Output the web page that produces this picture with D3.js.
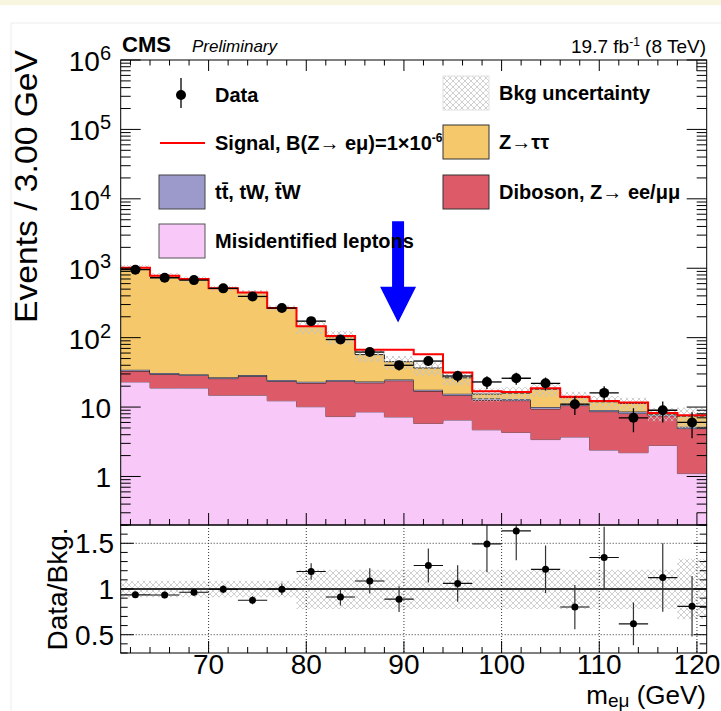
<!DOCTYPE html>
<html>
<head>
<meta charset="utf-8">
<script src="https://cdn.jsdelivr.net/npm/d3@7"></script>
<style>
  body { margin: 0; background: #fff; }
  text { font-family: "Liberation Sans", Arial, Helvetica, sans-serif; fill: #000; }
</style>
</head>
<body>
<div id="chart"></div>
<script>
// ---- values (20 bins of 3 GeV, 61-121 GeV) ----
var binCenters = [62.5, 65.5, 68.5, 71.5, 74.5, 77.5, 80.5, 83.5, 86.5, 89.5,
                  92.5, 95.5, 98.5, 101.5, 104.5, 107.5, 110.5, 113.5, 116.5, 119.5];
var binWidth = 3;
var misid   = [23.0, 18.8, 18.8, 14.8, 14.8, 12.3, 10.1, 7.3, 8.5, 7.2,
               5.8, 6.5, 4.7, 4.3, 3.4, 3.7, 2.4, 2.2, 2.8, 1.1];
var diboson = [10.0, 10.8, 9.7, 10.9, 12.9, 11.2, 12.1, 16.3, 13.9, 16.8,
               11.2, 8.3, 7.9, 8.1, 6.0, 6.8, 6.2, 5.9, 4.7, 3.8];
var ttbar   = [1.5, 1.4, 1.3, 1.2, 1.2, 1.1, 1.0, 1.0, 0.9, 0.9,
               0.8, 0.8, 0.7, 0.7, 0.6, 0.5, 0.5, 0.5, 0.3, 0.3];
var ztautau = [985, 749, 670, 488, 418, 243, 122, 78.4, 33.7, 20.1,
               18.8, 10.8, 2.1, 2.8, 8.1, 2.7, 2.8, 2.7, 0.2, 2.2];
var signal  = [0.3, 0.3, 0.3, 0.4, 0.5, 0.7, 1.0, 3.0, 10, 22,
               21, 5.0, 1.5, 0.6, 0.5, 0.4, 0.3, 0.3, 0.2, 0.2];
var data    = [954, 729, 675, 513, 392, 267, 173, 94, 62, 40,
               46, 28, 23, 26, 22, 11, 16, 7, 9, 6];
// relative background uncertainty (up / down)
var uncUp   = [0.09, 0.09, 0.09, 0.09, 0.09, 0.09, 0.21, 0.21, 0.21, 0.21,
               0.21, 0.21, 0.21, 0.21, 0.21, 0.21, 0.21, 0.21, 0.21, 0.33];
var uncDown = [0.09, 0.09, 0.09, 0.09, 0.09, 0.09, 0.22, 0.22, 0.22, 0.22,
               0.22, 0.22, 0.22, 0.22, 0.22, 0.22, 0.22, 0.22, 0.22, 0.33];

var w = 721;
var h = 711;
var L = 120.7, R = 706.7, T = 60, MID = 525, B = 653;
var yMin = 0.2;

var x = d3.scaleLinear().domain([61, 121]).range([L, R]);
var y = d3.scaleLog().domain([yMin, 1e6]).range([MID, T]);
var ry = d3.scaleLinear().domain([0.3, 1.7]).range([B, MID]);

var colors = {
  misid: "#f8c8f8",
  diboson: "#dd5b69",
  ttbar: "#9c9acb",
  ztautau: "#f5c96b"
};
var keys = ["misid", "diboson", "ttbar", "ztautau"];

var rows = binCenters.map(function(c, i) {
  return {c: c, misid: misid[i], diboson: diboson[i], ttbar: ttbar[i], ztautau: ztautau[i]};
});
var series = d3.stack().keys(keys)(rows);
var bkg = rows.map(function(r) { return r.misid + r.diboson + r.ttbar + r.ztautau; });

// step helper: one point per bin low edge + closing point at last high edge
function steps(lo, hi) {
  var pts = binCenters.map(function(c, i) { return {e: c - binWidth / 2, lo: lo[i], hi: hi[i]}; });
  var n = binCenters.length - 1;
  pts.push({e: binCenters[n] + binWidth / 2, lo: lo[n], hi: hi[n]});
  return pts;
}
function yc(v) { return y(Math.max(v, yMin)); }

var svg = d3.select("#chart")
    .append("svg")
    .attr("width", w)
    .attr("height", h);

// page background bits (screenshot frame)
svg.append("rect").attr("x", 0).attr("y", 0).attr("width", w).attr("height", 5).attr("fill", "#f8f6de");
svg.append("path").attr("d", "M11," + h + "V23H" + w).attr("fill", "none").attr("stroke", "#ececec");

var defs = svg.append("defs");
var hatch = defs.append("pattern")
    .attr("id", "hatch")
    .attr("patternUnits", "userSpaceOnUse")
    .attr("width", 6).attr("height", 6);
hatch.append("path")
    .attr("d", "M-1,-1L7,7M7,-1L-1,7")
    .attr("stroke", "#c4c4c4")
    .attr("stroke-width", 0.8);
defs.append("clipPath").attr("id", "clipMain")
  .append("rect").attr("x", L).attr("y", T).attr("width", R - L).attr("height", MID - T);
defs.append("clipPath").attr("id", "clipRatio")
  .append("rect").attr("x", L).attr("y", MID).attr("width", R - L).attr("height", B - MID);

var main = svg.append("g").attr("clip-path", "url(#clipMain)");

var area = d3.area().curve(d3.curveStepAfter)
    .x(function(d) { return x(d.e); })
    .y0(function(d) { return yc(d.lo); })
    .y1(function(d) { return yc(d.hi); });
var topLine = d3.line().curve(d3.curveStepAfter)
    .x(function(d) { return x(d.e); })
    .y(function(d) { return yc(d.hi); });

//stacked backgrounds
series.forEach(function(s) {
  var pts = steps(s.map(function(d) { return d[0]; }), s.map(function(d) { return d[1]; }));
  main.append("path").attr("d", area(pts)).attr("fill", colors[s.key]);
  main.append("path").attr("d", topLine(pts))
      .attr("fill", "none")
      .attr("stroke", s.key === "misid" ? "#6a5a6a" : "#222")
      .attr("stroke-width", 1);
});

// background uncertainty band
var bandPts = steps(
  bkg.map(function(b, i) { return b * (1 - uncDown[i]); }),
  bkg.map(function(b, i) { return b * (1 + uncUp[i]); })
);
main.append("path").attr("d", area(bandPts)).attr("fill", "url(#hatch)");

// signal on top of background
var sigPts = steps(bkg, bkg.map(function(b, i) { return b + signal[i]; }));
main.append("path").attr("d", topLine(sigPts))
    .attr("fill", "none")
    .attr("stroke", "#ff0000")
    .attr("stroke-width", 2);

// data points
var dataG = main.append("g");
binCenters.forEach(function(c, i) {
  var d = data[i], e = Math.sqrt(d);
  dataG.append("line")
      .attr("x1", x(c - binWidth / 2)).attr("x2", x(c + binWidth / 2))
      .attr("y1", y(d)).attr("y2", y(d))
      .attr("stroke", "#000").attr("stroke-width", 1.3);
  dataG.append("line")
      .attr("x1", x(c)).attr("x2", x(c))
      .attr("y1", yc(d - e)).attr("y2", yc(d + e))
      .attr("stroke", "#000").attr("stroke-width", 1.3);
  dataG.append("circle").attr("cx", x(c)).attr("cy", y(d)).attr("r", 5).attr("fill", "#000");
});

// blue arrow pointing at the Z mass window
var arrowX = 89.4, arrowTop = 4760, arrowHead = 540, arrowTip = 165;
svg.append("path")
    .attr("d", "M" + (x(arrowX) - 6) + "," + y(arrowTop) +
               "H" + (x(arrowX) + 6) + "V" + y(arrowHead) +
               "H" + (x(arrowX) + 18) + "L" + x(arrowX) + "," + y(arrowTip) +
               "L" + (x(arrowX) - 18) + "," + y(arrowHead) +
               "H" + (x(arrowX) - 6) + "Z")
    .attr("fill", "#0000ff");

// frames
svg.append("rect").attr("x", L).attr("y", T).attr("width", R - L).attr("height", MID - T)
    .attr("fill", "none").attr("stroke", "#000").attr("stroke-width", 1);

// main panel ticks
var ticksG = svg.append("g").attr("stroke", "#000").attr("stroke-width", 1);
y.ticks().filter(function(t) { return t >= yMin && t <= 1e6; }).forEach(function(t) {
  var lg = Math.log10(t);
  var major = Math.abs(lg - Math.round(lg)) < 1e-9;
  var len = major ? 20 : 10;
  ticksG.append("line").attr("x1", L).attr("x2", L + len).attr("y1", y(t)).attr("y2", y(t));
  ticksG.append("line").attr("x1", R).attr("x2", R - len).attr("y1", y(t)).attr("y2", y(t));
});
x.ticks(30).forEach(function(t) {
  var major = t % 10 === 0;
  ticksG.append("line").attr("x1", x(t)).attr("x2", x(t)).attr("y1", T).attr("y2", T + (major ? 11 : 5.5));
  ticksG.append("line").attr("x1", x(t)).attr("x2", x(t)).attr("y1", MID).attr("y2", MID - (major ? 12 : 6));
});

// main y labels
[1, 10, 100, 1e3, 1e4, 1e5, 1e6].forEach(function(t) {
  var lg = Math.round(Math.log10(t));
  var tx = svg.append("text")
      .attr("x", 111).attr("y", y(t) + 11)
      .attr("text-anchor", "end")
      .attr("font-size", 28);
  if (lg < 2) {
    tx.text(String(t));
  } else {
    tx.append("tspan").text("10");
    tx.append("tspan").attr("dy", -11).attr("font-size", 20).text(lg);
  }
});

svg.append("text")
    .attr("transform", "translate(37,50) rotate(-90)")
    .attr("text-anchor", "end")
    .attr("font-size", 31)
    .attr("textLength", 273)
    .attr("lengthAdjust", "spacingAndGlyphs")
    .text("Events / 3.00 GeV");

svg.append("text").attr("x", 122).attr("y", 52)
    .attr("font-size", 22).attr("font-weight", "bold").text("CMS");
svg.append("text").attr("x", 192).attr("y", 52)
    .attr("font-size", 17).attr("font-style", "italic").text("Preliminary");
var lumi = svg.append("text").attr("x", 706).attr("y", 53)
    .attr("text-anchor", "end").attr("font-size", 19);
lumi.append("tspan").text("19.7 fb");
lumi.append("tspan").attr("dy", -7).attr("font-size", 12).text("-1");
lumi.append("tspan").attr("dy", 7).text(" (8 TeV)");

// ---- legend ----
var leg = svg.append("g").attr("font-size", 20).attr("font-weight", "bold");
leg.append("line").attr("x1", 181).attr("x2", 181).attr("y1", 78).attr("y2", 108)
    .attr("stroke", "#000").attr("stroke-width", 1.3);
leg.append("circle").attr("cx", 181).attr("cy", 95).attr("r", 5).attr("fill", "#000");
leg.append("text").attr("x", 215).attr("y", 102).text("Data");

leg.append("line").attr("x1", 160).attr("x2", 205).attr("y1", 143).attr("y2", 143)
    .attr("stroke", "#ff0000").attr("stroke-width", 2);
var sigTxt = leg.append("text").attr("x", 215).attr("y", 150);
sigTxt.append("tspan").text("Signal, B(Z\u2192 e\u03bc)=1\u00d710");
sigTxt.append("tspan").attr("dy", -8).attr("font-size", 12).text("-6");

function legBox(bx, by, fill, stroke, label) {
  leg.append("rect").attr("x", bx).attr("y", by).attr("width", 46).attr("height", 34)
      .attr("fill", fill).attr("stroke", stroke).attr("stroke-width", 1);
  leg.append("text").attr("x", bx + 56).attr("y", by + 24).text(label);
}
legBox(159, 175, colors.ttbar, "#444", "tt\u0304, tW, t\u0304W");
legBox(159, 224, colors.misid, "#555", "Misidentified leptons");
legBox(443, 76, "url(#hatch)", "#e2e2e2", "Bkg uncertainty");
legBox(443, 125, colors.ztautau, "#333", "Z\u2192\u03c4\u03c4");
legBox(443, 175, colors.diboson, "#333", "Diboson, Z\u2192 ee/\u03bc\u03bc");

// ---- ratio panel ----
var ratio = svg.append("g").attr("clip-path", "url(#clipRatio)");
var ratioBand = d3.area().curve(d3.curveStepAfter)
    .x(function(d) { return x(d.e); })
    .y0(function(d) { return ry(d.lo); })
    .y1(function(d) { return ry(d.hi); });
ratio.append("path")
    .attr("d", ratioBand(steps(uncDown.map(function(u) { return 1 - u; }), uncUp.map(function(u) { return 1 + u; }))))
    .attr("fill", "url(#hatch)");

var gridG = ratio.append("g").attr("stroke", "#333").attr("stroke-width", 1).attr("stroke-dasharray", "1,2");
x.ticks(6).forEach(function(t) {
  gridG.append("line").attr("x1", x(t)).attr("x2", x(t)).attr("y1", MID).attr("y2", B);
});
[0.5, 1.5].forEach(function(t) {
  gridG.append("line").attr("x1", L).attr("x2", R).attr("y1", ry(t)).attr("y2", ry(t));
});
ratio.append("line").attr("x1", L).attr("x2", R).attr("y1", ry(1)).attr("y2", ry(1))
    .attr("stroke", "#333").attr("stroke-width", 2.2);

binCenters.forEach(function(c, i) {
  var r = data[i] / bkg[i], e = Math.sqrt(data[i]) / bkg[i];
  ratio.append("line")
      .attr("x1", x(c - binWidth / 2)).attr("x2", x(c + binWidth / 2))
      .attr("y1", ry(r)).attr("y2", ry(r))
      .attr("stroke", "#111").attr("stroke-width", 1.2);
  ratio.append("line")
      .attr("x1", x(c)).attr("x2", x(c))
      .attr("y1", ry(r - e)).attr("y2", ry(r + e))
      .attr("stroke", "#333").attr("stroke-width", 1.2);
  ratio.append("circle").attr("cx", x(c)).attr("cy", ry(r)).attr("r", 3.5).attr("fill", "#000");
});

svg.append("rect").attr("x", L).attr("y", MID).attr("width", R - L).attr("height", B - MID)
    .attr("fill", "none").attr("stroke", "#000").attr("stroke-width", 1);

var rTicks = svg.append("g").attr("stroke", "#000").attr("stroke-width", 1);
ry.ticks(14).forEach(function(t) {
  var major = Math.abs(t * 2 - Math.round(t * 2)) < 1e-9;
  var len = major ? 13 : 7;
  rTicks.append("line").attr("x1", L).attr("x2", L + len).attr("y1", ry(t)).attr("y2", ry(t));
  rTicks.append("line").attr("x1", R).attr("x2", R - len).attr("y1", ry(t)).attr("y2", ry(t));
});
x.ticks(30).forEach(function(t) {
  var major = t % 10 === 0;
  rTicks.append("line").attr("x1", x(t)).attr("x2", x(t)).attr("y1", B).attr("y2", B - (major ? 12 : 6));
});

[0.5, 1, 1.5].forEach(function(t) {
  svg.append("text").attr("x", 114).attr("y", ry(t) + 10)
      .attr("text-anchor", "end").attr("font-size", 28).text(String(t));
});
x.ticks(6).forEach(function(t) {
  svg.append("text").attr("x", x(t)).attr("y", 674)
      .attr("text-anchor", "middle").attr("font-size", 28).text(t);
});

svg.append("text")
    .attr("transform", "translate(67," + ry(1) + ") rotate(-90)")
    .attr("text-anchor", "middle")
    .attr("font-size", 28)
    .text("Data/Bkg.");

var xt = svg.append("text").attr("x", 706).attr("y", 704)
    .attr("text-anchor", "end").attr("font-size", 26);
xt.append("tspan").text("m");
xt.append("tspan").attr("dy", 3).attr("font-size", 19).text("e\u03bc");
xt.append("tspan").attr("dy", -3).text("  (GeV)");
</script>
</body>
</html>
